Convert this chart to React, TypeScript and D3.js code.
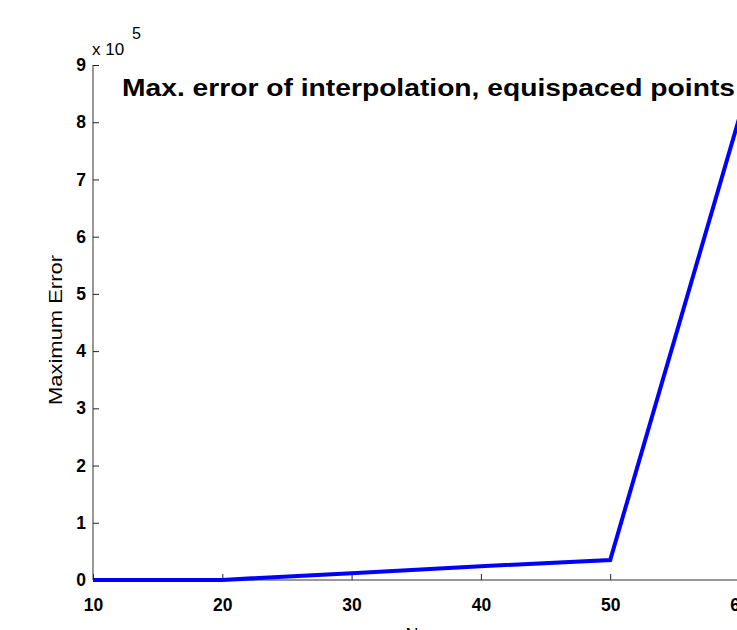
import React, { useRef, useEffect } from "react";
import * as d3 from "d3";

// Max. interpolation error versus N (equispaced points), values in units of 1e5
const nValues = [10, 20, 30, 40, 50, 60];
const maxErrors = [0.0, 0.002, 0.12, 0.24, 0.35, 8.09];
const xTicks = [10, 20, 30, 40, 50, 60];
const yTicks = [0, 1, 2, 3, 4, 5, 6, 7, 8, 9];

const App = () => {
    const svgRef = useRef<SVGSVGElement>(null);

    useEffect(() => {
        const svg = d3.select(svgRef.current);
        svg.selectAll("*").remove();

        const width = 737;
        const height = 630;
        const left = 93;
        const right = 739.5;
        const top = 65;
        const bottom = 580;

        const xScale = d3.scaleLinear().domain([10, 60]).range([left, right]);
        const yScale = d3.scaleLinear().domain([0, 9]).range([bottom, top]);

        svg.attr("width", width).attr("height", height);

        const font = "'Liberation Sans', Arial, Helvetica, sans-serif";

        // x-axis, ticks inside
        const xAxis = svg
            .append("g")
            .attr("transform", `translate(0, ${bottom})`)
            .call(d3.axisBottom(xScale).tickValues(xTicks).tickSize(-6).tickPadding(19).tickFormat(d3.format("d")));
        xAxis.select(".domain").attr("stroke", "#333").attr("d", `M${left},0H${right}`);
        xAxis.selectAll(".tick line").attr("stroke", "#222");
        xAxis
            .selectAll("text")
            .attr("font-family", font)
            .attr("font-size", 17.5)
            .attr("font-weight", "bold")
            .attr("fill", "#000");

        // y-axis, ticks inside
        const yAxis = svg
            .append("g")
            .attr("transform", `translate(${left}, 0)`)
            .call(d3.axisLeft(yScale).tickValues(yTicks).tickSize(-6).tickPadding(7).tickFormat(d3.format("d")));
        yAxis.select(".domain").attr("stroke", "#333").attr("d", `M0,${bottom}V${top}`);
        yAxis.selectAll(".tick line").attr("stroke", "#222");
        yAxis
            .selectAll("text")
            .attr("font-family", font)
            .attr("font-size", 17.5)
            .attr("font-weight", "bold")
            .attr("fill", "#000");

        // data line
        const line = d3
            .line<number>()
            .x((d, i) => xScale(nValues[i]))
            .y(d => yScale(d));

        svg
            .append("path")
            .datum(maxErrors)
            .attr("d", line)
            .attr("fill", "none")
            .attr("stroke", "#0000ff")
            .attr("stroke-width", 4)
            .attr("stroke-linejoin", "miter");

        // exponent label
        svg
            .append("text")
            .attr("x", 92)
            .attr("y", 55)
            .attr("font-family", font)
            .attr("font-size", 17)
            .attr("fill", "#000")
            .text("x 10");
        svg
            .append("text")
            .attr("x", 132)
            .attr("y", 39)
            .attr("font-family", font)
            .attr("font-size", 16)
            .attr("fill", "#000")
            .text("5");

        // title
        svg
            .append("text")
            .attr("x", 122)
            .attr("y", 96)
            .attr("font-family", font)
            .attr("font-size", 24)
            .attr("font-weight", "bold")
            .attr("fill", "#000")
            .attr("textLength", 613)
            .attr("lengthAdjust", "spacingAndGlyphs")
            .text("Max. error of interpolation, equispaced points");

        // axis labels
        svg
            .append("text")
            .attr("x", 412)
            .attr("y", 641)
            .attr("text-anchor", "middle")
            .attr("font-family", font)
            .attr("font-size", 18)
            .attr("fill", "#000")
            .text("N");

        svg
            .append("text")
            .attr("x", -330)
            .attr("y", 62)
            .attr("text-anchor", "middle")
            .attr("transform", "rotate(-90)")
            .attr("font-family", font)
            .attr("font-size", 18.5)
            .attr("fill", "#000")
            .attr("textLength", 150)
            .attr("lengthAdjust", "spacingAndGlyphs")
            .text("Maximum Error");
    }, []);

    return <svg ref={svgRef} style={{ position: "absolute", left: 0, top: 0, background: "#fff" }}></svg>;
};

export default App;
